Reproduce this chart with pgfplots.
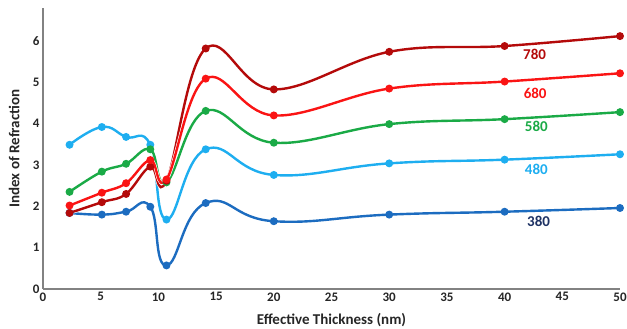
\documentclass[border=0pt]{standalone}
\usepackage{pgfplots}
\pgfplotsset{compat=1.18}
\usepackage{fontspec}
\setmainfont{Carlito}
\definecolor{c380}{RGB}{28,108,192}
\definecolor{c480}{RGB}{30,174,240}
\definecolor{c580}{RGB}{26,170,70}
\definecolor{c680}{RGB}{250,20,20}
\definecolor{c780}{RGB}{180,10,10}
\definecolor{l380}{RGB}{30,50,100}
\definecolor{axgray}{RGB}{130,130,130}
\begin{document}
\begin{tikzpicture}
\begin{axis}[
  scale only axis, width=577pt, height=281pt,
  xmin=0, xmax=50, ymin=0, ymax=6.8,
  axis lines=left, axis line style={axgray, line width=1.2pt, -},
  xtick={0,5,...,50}, ytick={0,1,...,6},
  major tick length=0pt,
  tick label style={font=\bfseries\fontsize{13}{15}\selectfont, text=black!85},
  /pgf/number format/assume math mode=true,
  xlabel={\bfseries Effective Thickness (nm)},
  ylabel={\bfseries Index of Refraction},
  label style={font=\bfseries\fontsize{15}{17}\selectfont, text=black!85},
  xlabel style={at={(axis description cs:0.5,0)}, anchor=base, yshift=-35.5pt},
  ylabel style={at={(axis description cs:0,0.5)}, rotate=0, anchor=base, yshift=23.5pt},
  every axis plot/.append style={smooth, line width=2.4pt, mark=*, mark size=2.7pt, mark options={line width=0pt}, preaction={draw, white, line width=3.6pt}},
  clip=false,
]
\addplot[c380, tension=0.8, mark options={fill=c380}] coordinates {(2.3,1.84) (5.1,1.80) (7.2,1.87) (9.3,1.99) (10.7,0.57) (14.1,2.08) (20,1.64) (30,1.80) (40,1.87) (50,1.96)};
\addplot[c480, tension=0.75, mark options={fill=c480}] coordinates {(2.3,3.49) (5.1,3.92) (7.2,3.68) (9.3,3.49) (10.7,1.68) (14.1,3.38) (20,2.76) (30,3.04) (40,3.13) (50,3.26)};
\addplot[c580, tension=0.68, mark options={fill=c580}] coordinates {(2.3,2.35) (5.1,2.84) (7.2,3.03) (9.3,3.38) (10.7,2.58) (14.1,4.31) (20,3.54) (30,3.99) (40,4.11) (50,4.28)};
\addplot[c780, tension=0.65, mark options={fill=c780}] coordinates {(2.3,1.84) (5.1,2.10) (7.2,2.30) (9.3,2.96) (10.7,2.62) (14.1,5.82) (20,4.83) (30,5.74) (40,5.88) (50,6.12)};
\addplot[c680, tension=0.65, mark options={fill=c680}] coordinates {(2.3,2.02) (5.1,2.33) (7.2,2.56) (9.3,3.12) (10.7,2.65) (14.1,5.09) (20,4.20) (30,4.85) (40,5.02) (50,5.22)};
\node[font=\bfseries\fontsize{15}{17}\selectfont, text=c780] at (axis cs:42.6,5.67) {780};
\node[font=\bfseries\fontsize{15}{17}\selectfont, text=c680] at (axis cs:42.65,4.74) {680};
\node[font=\bfseries\fontsize{15}{17}\selectfont, text=c580] at (axis cs:42.75,3.94) {580};
\node[font=\bfseries\fontsize{15}{17}\selectfont, text=c480] at (axis cs:42.75,2.90) {480};
\node[font=\bfseries\fontsize{15}{17}\selectfont, text=l380] at (axis cs:42.95,1.64) {380};
\end{axis}
\pgfresetboundingbox
\path ([shift={(-43pt,-40pt)}]current axis.south west) rectangle ([shift={(7pt,8pt)}]current axis.north east);
\end{tikzpicture}
\end{document}
